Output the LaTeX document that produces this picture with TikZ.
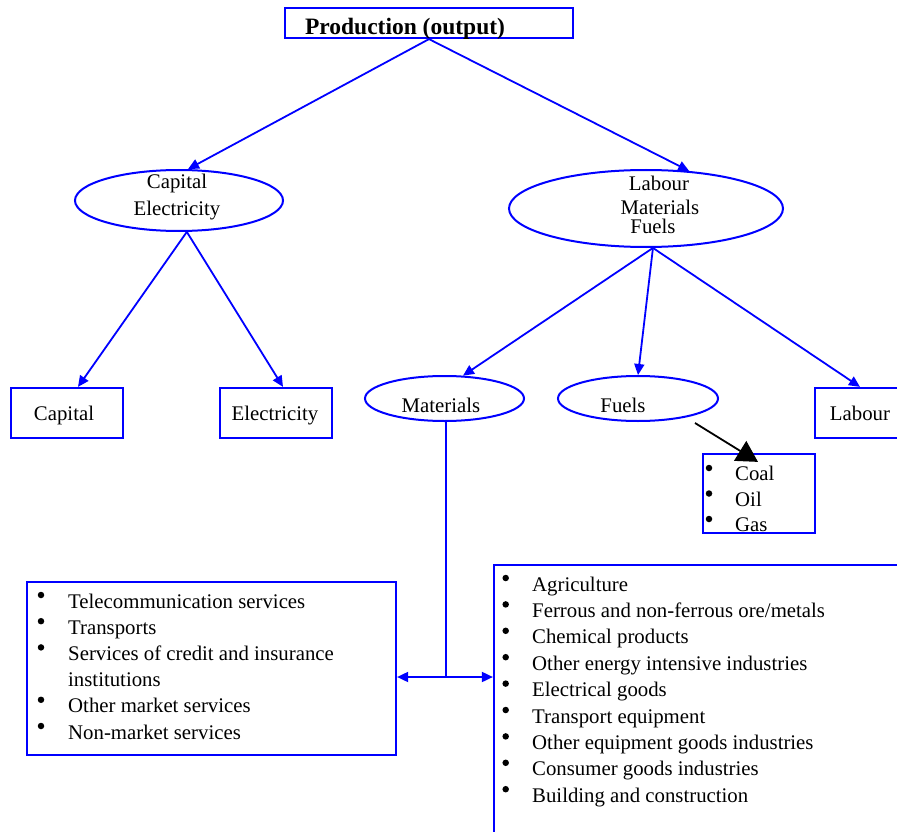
\documentclass[tikz,border=0pt]{standalone}
\usepackage{fontspec}
\setmainfont{Liberation Serif}
\usetikzlibrary{shapes.geometric,arrows.meta,calc}
\definecolor{lineblue}{RGB}{0,0,255}
\begin{document}
\begin{tikzpicture}[x=1pt,y=-1pt,
  txt/.style={font=\fontsize{20.8}{26}\selectfont, inner sep=0pt, anchor=base},
  listtxt/.style={txt, anchor=base west},
  bluebox/.style={draw=lineblue, line width=2.2pt, rectangle, inner sep=0pt},
  blueell/.style={draw=lineblue, line width=2pt, ellipse, inner sep=0pt},
  conn/.style={draw=lineblue, line width=1.8pt},
  arr/.style={conn, -{Triangle[length=11pt,width=10pt]}},
  bullet/.style={circle, fill=black, inner sep=0pt, minimum size=6.5pt},
]
\useasboundingbox (0,0) rectangle (897,832);
\clip (0,0) rectangle (897,832);

% boxes and ellipses
\node[bluebox, minimum width=288pt, minimum height=30pt] (top) at (429,23) {};
\node[blueell, minimum width=208pt, minimum height=61pt] (capel) at (179,200.5) {};
\node[blueell, minimum width=274pt, minimum height=77pt] (label) at (646,208.5) {};
\node[bluebox, minimum width=112pt, minimum height=50pt] (capbox) at (67,413) {};
\node[bluebox, minimum width=112pt, minimum height=50pt] (elbox) at (276,413) {};
\node[blueell, minimum width=159pt, minimum height=45pt] (matel) at (444.5,398.5) {};
\node[blueell, minimum width=160pt, minimum height=45pt] (fuel) at (638,398.5) {};
\node[bluebox, minimum width=90pt, minimum height=50pt] (labbox) at (860,413) {};
\node[bluebox, minimum width=112pt, minimum height=79pt] (coal) at (759,493.5) {};
\node[bluebox, minimum width=369pt, minimum height=173pt] (leftbox) at (211.5,668.5) {};
\node[bluebox, minimum width=416pt, minimum height=280pt] (rightbox) at (702,705) {};

% texts
\node[txt, font=\fontsize{23.5}{28}\selectfont\bfseries] (toptxt) at (405,35) {Production (output)};
\node[txt] (ce1) at (177,189) {Capital};
\node[txt] (ce2) at (177,215) {Electricity};
\node[txt] (le1) at (659,190) {Labour};
\node[txt] (le2) at (660,214) {Materials};
\node[txt] (le3) at (653,233) {Fuels};
\node[txt] (mattxt) at (441,412) {Materials};
\node[txt] (fueltxt) at (623,412) {Fuels};
\node[txt] (captxt) at (64,420) {Capital};
\node[txt] (eltxt) at (275,420) {Electricity};
\node[txt] (labtxt) at (860,420) {Labour};

% coal list
\foreach \t [count=\i from 0] in {Coal,Oil,Gas}{
  \node[bullet] (cb\i) at (709,468+25.5*\i) {};
  \node[listtxt] (ct\i) at (735,480.5+25.5*\i) {\t};
}

% left list
\foreach \k in {0,1,2,4,5}{
  \node[bullet] (lb\k) at (41,595+26.2*\k) {};
}
\foreach \t [count=\i from 0] in {Telecommunication services,Transports,Services of credit and insurance,institutions,Other market services,Non-market services}{
  \node[listtxt] (lt\i) at (68,608+26.2*\i) {\t};
}

% right list
\foreach \t [count=\i from 0] in {Agriculture,Ferrous and non-ferrous ore/metals,Chemical products,Other energy intensive industries,Electrical goods,Transport equipment,Other equipment goods industries,Consumer goods industries,Building and construction}{
  \node[bullet] (rb\i) at (505.7,578+26.4*\i) {};
  \node[listtxt] (rt\i) at (532,591+26.4*\i) {\t};
}

% connectors
\draw[arr] (top.south) -- (capel.74);
\draw[arr] (top.south) -- (label.41);
\draw[arr] (capel.-76) -- ($(capbox.north)+(11,0)$);
\draw[arr] (capel.-76) -- ($(elbox.north)+(7,0)$);
\draw[arr] (label.-80) -- (matel.51);
\draw[arr] (label.-80) -- (fuel.north);
\draw[arr] (label.-80) -- (labbox.north);

\coordinate (junc) at (446,677);
\draw[conn] (junc |- matel.south) -- (junc);
\draw[arr] (junc) -- (junc -| leftbox.east);
\draw[arr] (junc) -- (junc -| rightbox.west);

\coordinate (fstart) at (695,423);
\draw[black, line width=1.8pt, -{Triangle[length=21pt,width=23pt]}] (fstart) -- ($(coal.north)+(-1,9)$);
\end{tikzpicture}
\end{document}
